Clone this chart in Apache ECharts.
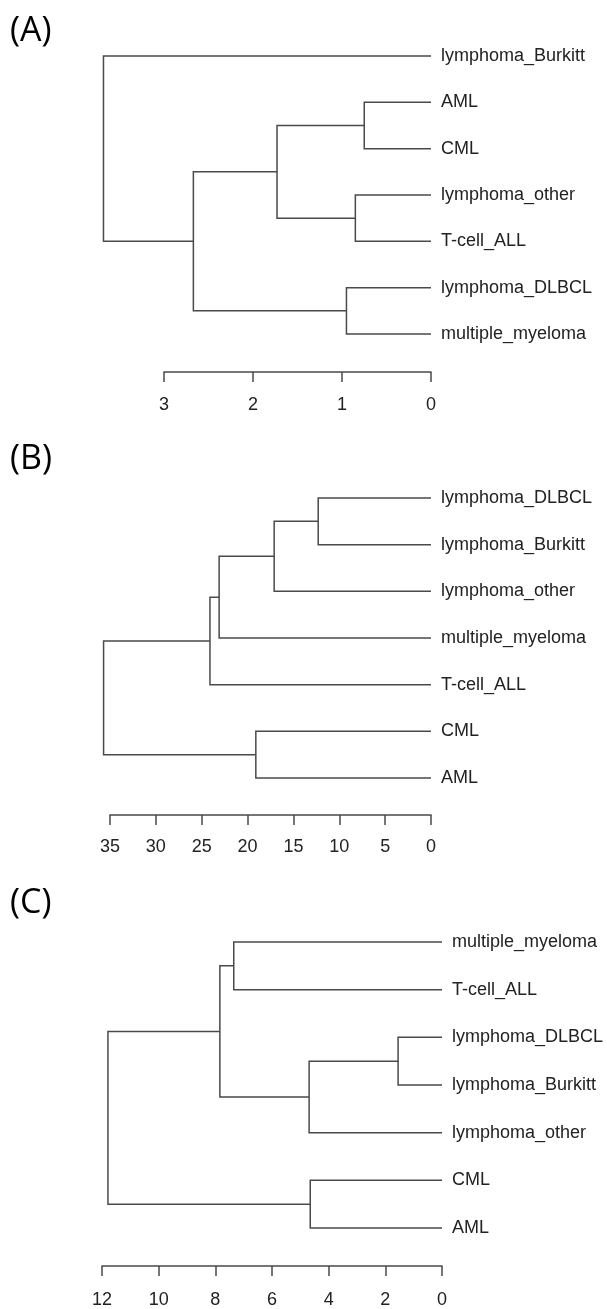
<!DOCTYPE html>
<html><head><meta charset="utf-8">
<script src="https://cdn.jsdelivr.net/npm/echarts@6/dist/echarts.min.js"></script>
<style>html,body{margin:0;padding:0;background:#fff}#c{width:607px;height:1309px}</style>
</head><body><div id="c"></div>
<script>
// ---- data ----
const panelTitles = ['(A)', '(B)', '(C)'];

const leavesA = ['lymphoma_Burkitt', 'AML', 'CML', 'lymphoma_other', 'T-cell_ALL', 'lymphoma_DLBCL', 'multiple_myeloma'];
// merges: [childA, childB, height]; negative = leaf (1-based), positive = earlier merge (1-based)
const mergesA = [[-2, -3, 0.75], [-4, -5, 0.85], [-6, -7, 0.95], [1, 2, 1.73], [4, 3, 2.67], [-1, 5, 3.68]];
const axisMaxA = 3, axisStepA = 1;

const leavesB = ['lymphoma_DLBCL', 'lymphoma_Burkitt', 'lymphoma_other', 'multiple_myeloma', 'T-cell_ALL', 'CML', 'AML'];
const mergesB = [[-1, -2, 12.3], [1, -3, 17.1], [2, -4, 23.1], [3, -5, 24.1], [-6, -7, 19.1], [4, 5, 35.7]];
const axisMaxB = 35, axisStepB = 5;

const leavesC = ['multiple_myeloma', 'T-cell_ALL', 'lymphoma_DLBCL', 'lymphoma_Burkitt', 'lymphoma_other', 'CML', 'AML'];
const mergesC = [[-3, -4, 1.55], [-1, -2, 7.35], [1, -5, 4.69], [2, 3, 7.84], [-6, -7, 4.65], [4, 5, 11.79]];
const axisMaxC = 12, axisStepC = 2;

// ---- build ----
function buildSegments(merges) {
  const nodes = [];
  const segs = [];
  const get = r => r < 0 ? { h: 0, y: -r - 1 } : nodes[r - 1];
  merges.forEach(([a, b, h]) => {
    const A = get(a), B = get(b);
    segs.push({ coords: [[A.h, A.y], [h, A.y], [h, B.y], [B.h, B.y]] });
    nodes.push({ h: h, y: (A.y + B.y) / 2 });
  });
  return segs;
}

const panels = [
  { leaves: leavesA, merges: mergesA, max: axisMaxA, step: axisStepA,
    grid: { left: 164, top: 56, width: 267, height: 278 }, offset: 38, labMargin: 24, titleTop: 14 },
  { leaves: leavesB, merges: mergesB, max: axisMaxB, step: axisStepB,
    grid: { left: 110, top: 498, width: 321, height: 280 }, offset: 37, labMargin: 23, titleTop: 442 },
  { leaves: leavesC, merges: mergesC, max: axisMaxC, step: axisStepC,
    grid: { left: 102, top: 942, width: 340, height: 286 }, offset: 38, labMargin: 25, titleTop: 886 }
];

const lineColor = '#4a4a4a';
const textColor = '#222222';
const font = '"Liberation Sans", Arial, sans-serif';

const option = {
  backgroundColor: '#fff',
  animation: false,
  title: panels.map((p, i) => ({
    text: panelTitles[i], left: 10, top: p.titleTop, padding: 0,
    textStyle: { fontFamily: '"Open Sans", "Noto Sans", sans-serif', fontSize: 34, fontWeight: 'normal', color: '#000', lineHeight: 34 }
  })),
  grid: panels.map(p => Object.assign({ outerBoundsMode: 'none', containLabel: false }, p.grid)),
  xAxis: panels.map((p, i) => ({
    gridIndex: i, type: 'value', inverse: true, min: 0, max: p.max, interval: p.step,
    position: 'bottom', offset: p.offset,
    axisLine: { show: true, onZero: false, lineStyle: { color: lineColor, width: 1.5 } },
    axisTick: { show: true, inside: false, length: 10, lineStyle: { color: lineColor, width: 1.5 } },
    axisLabel: { show: true, margin: p.labMargin, fontSize: 18, fontFamily: font, color: textColor,
      showMinLabel: true, showMaxLabel: true, hideOverlap: false },
    splitLine: { show: false }
  })),
  yAxis: panels.map((p, i) => ({
    gridIndex: i, type: 'value', inverse: true, min: 0, max: p.leaves.length - 1, interval: 1,
    position: 'right',
    axisLine: { show: false, onZero: false }, axisTick: { show: false }, splitLine: { show: false },
    axisLabel: { margin: 10, fontSize: 18, fontFamily: font, color: textColor,
      showMinLabel: true, showMaxLabel: true, hideOverlap: false,
      formatter: v => p.leaves[Math.round(v)] }
  })),
  series: panels.map((p, i) => ({
    type: 'lines', coordinateSystem: 'cartesian2d', xAxisIndex: i, yAxisIndex: i,
    polyline: true, clip: false, silent: true,
    lineStyle: { color: lineColor, width: 1.5, opacity: 1 },
    data: buildSegments(p.merges)
  }))
};

const chart = echarts.init(document.getElementById('c'), null, { renderer: 'canvas' });
chart.setOption(option);
</script>
</body></html>
